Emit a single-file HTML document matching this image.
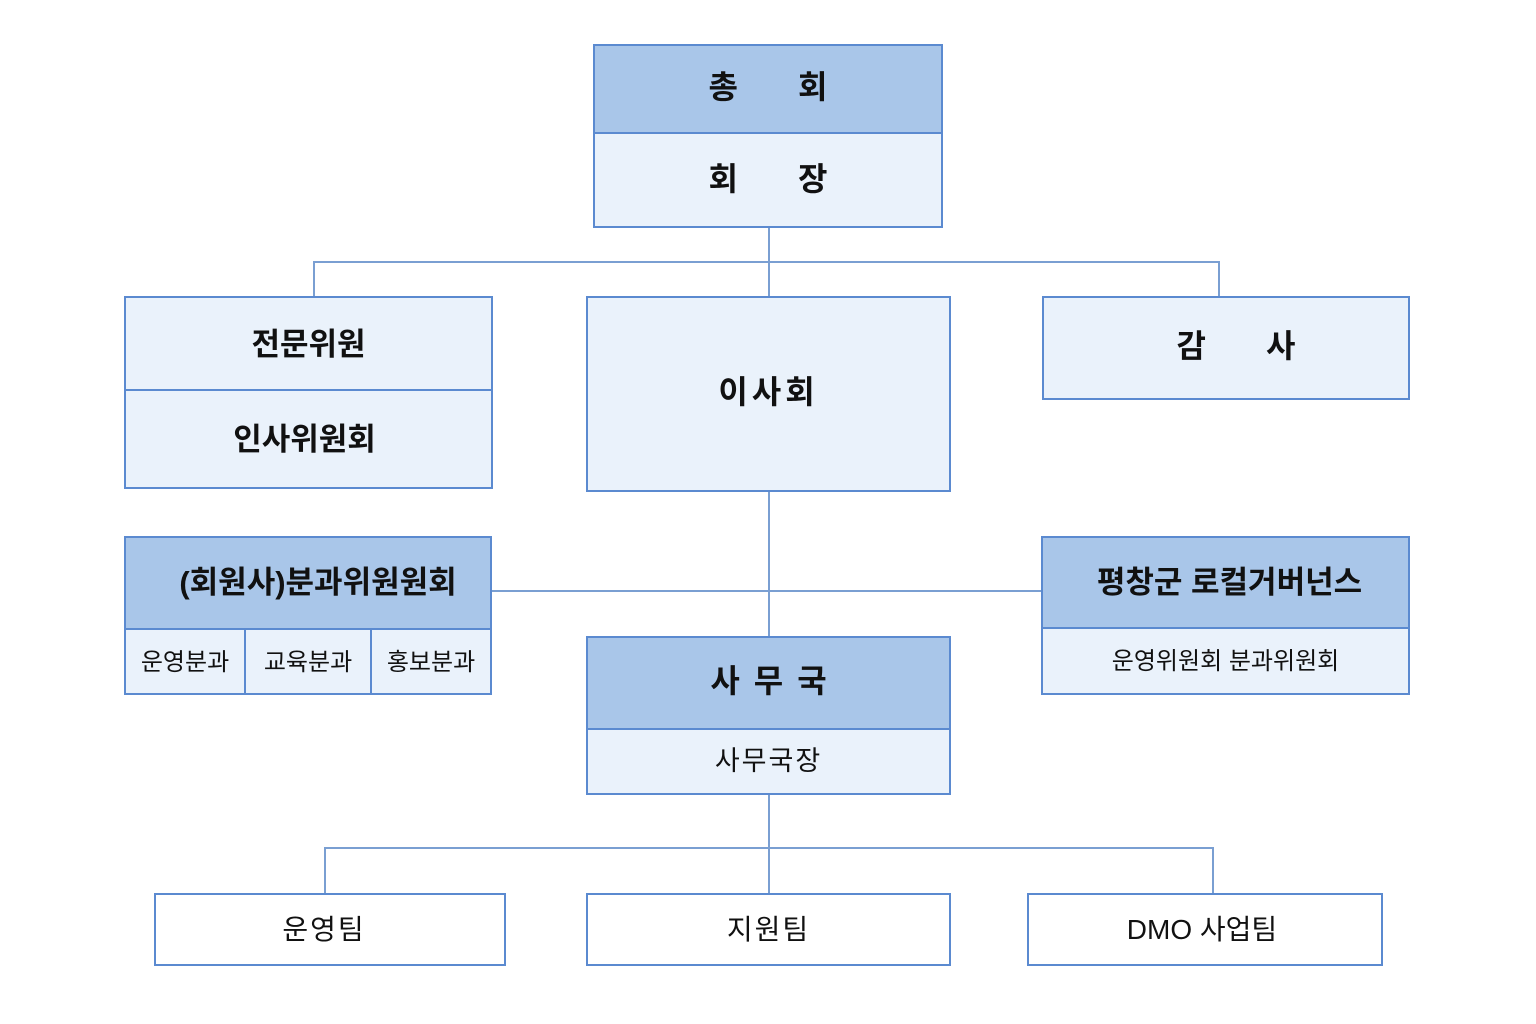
<!DOCTYPE html>
<html><head><meta charset="utf-8"><style>
html,body{margin:0;padding:0;background:#fff;}
body{width:1536px;height:1024px;position:relative;overflow:hidden;font-family:"Liberation Sans","Noto Sans CJK KR","NanumGothic",sans-serif;color:#111;}
.b{position:absolute;box-sizing:border-box;border:2px solid #5b8ad0;}
.d{background:#a9c6e9;}
.l{background:#eaf2fb;}
.w{background:#fff;}
.t{position:absolute;display:flex;align-items:center;justify-content:center;white-space:pre;}
.ln{position:absolute;background:#7a9fd2;}
.sp{display:inline-block;}
</style></head><body>
<div class="ln" style="left:768px;top:228px;width:1.5px;height:68px"></div>
<div class="ln" style="left:313px;top:261px;width:906px;height:1.5px"></div>
<div class="ln" style="left:313px;top:261px;width:1.5px;height:35px"></div>
<div class="ln" style="left:1218px;top:261px;width:1.5px;height:35px"></div>
<div class="ln" style="left:768px;top:491px;width:1.5px;height:145px"></div>
<div class="ln" style="left:492px;top:590px;width:549px;height:1.5px"></div>
<div class="ln" style="left:768px;top:794px;width:1.5px;height:99px"></div>
<div class="ln" style="left:324px;top:847px;width:889px;height:1.5px"></div>
<div class="ln" style="left:324px;top:847px;width:1.5px;height:46px"></div>
<div class="ln" style="left:1212px;top:847px;width:1.5px;height:46px"></div>

<div class="b d" style="left:593px;top:44px;width:350px;height:90px"></div>
<div class="b l" style="left:593px;top:132px;width:350px;height:96px"></div>
<div class="t" style="left:593px;top:41px;width:350px;height:88px;font-size:32px;font-weight:bold">총<span class="sp" style="width:60px"></span>회</div>
<div class="t" style="left:593px;top:129px;width:350px;height:96px;font-size:32px;font-weight:bold">회<span class="sp" style="width:60px"></span>장</div>

<div class="b l" style="left:124px;top:296px;width:369px;height:96px"></div>
<div class="b l" style="left:124px;top:389px;width:369px;height:100px"></div>
<div class="t" style="left:124px;top:294px;width:369px;height:94px;font-size:31px;font-weight:bold">전문위원</div>
<div class="t" style="left:120px;top:387px;width:369px;height:98px;font-size:31px;font-weight:bold">인사위원회</div>

<div class="b l" style="left:586px;top:296px;width:365px;height:196px"></div>
<div class="t" style="left:586px;top:294px;width:365px;height:192px;font-size:32px;font-weight:bold;letter-spacing:4px">이사회</div>

<div class="b l" style="left:1042px;top:296px;width:368px;height:104px"></div>
<div class="t" style="left:1052px;top:294px;width:368px;height:100px;font-size:32px;font-weight:bold">감<span class="sp" style="width:60px"></span>사</div>

<div class="b d" style="left:124px;top:536px;width:368px;height:95px"></div>
<div class="b l" style="left:124px;top:628px;width:122px;height:67px"></div>
<div class="b l" style="left:244px;top:628px;width:128px;height:67px"></div>
<div class="b l" style="left:370px;top:628px;width:122px;height:67px"></div>
<div class="t" style="left:134px;top:533px;width:368px;height:92px;font-size:31px;font-weight:bold">(회원사)분과위원원회</div>
<div class="t" style="left:124px;top:626px;width:122px;height:66px;font-size:24px">운영분과</div>
<div class="t" style="left:244px;top:626px;width:128px;height:66px;font-size:24px">교육분과</div>
<div class="t" style="left:370px;top:626px;width:122px;height:66px;font-size:24px">홍보분과</div>

<div class="b d" style="left:1041px;top:536px;width:369px;height:94px"></div>
<div class="b l" style="left:1041px;top:627px;width:369px;height:68px"></div>
<div class="t" style="left:1045px;top:533px;width:369px;height:92px;font-size:31px;font-weight:bold">평창군 로컬거버넌스</div>
<div class="t" style="left:1041px;top:625px;width:369px;height:66px;font-size:24px">운영위원회 분과위원회</div>

<div class="b d" style="left:586px;top:636px;width:365px;height:95px"></div>
<div class="b l" style="left:586px;top:728px;width:365px;height:67px"></div>
<div class="t" style="left:586px;top:633px;width:365px;height:92px;font-size:32px;font-weight:bold">사<span class="sp" style="width:14px"></span>무<span class="sp" style="width:14px"></span>국</div>
<div class="t" style="left:586px;top:726px;width:365px;height:64px;font-size:27px;letter-spacing:2px">사무국장</div>

<div class="b w" style="left:154px;top:893px;width:352px;height:73px"></div>
<div class="b w" style="left:586px;top:893px;width:365px;height:73px"></div>
<div class="b w" style="left:1027px;top:893px;width:356px;height:73px"></div>
<div class="t" style="left:154px;top:891px;width:340px;height:73px;font-size:28px;letter-spacing:2px">운영팀</div>
<div class="t" style="left:586px;top:891px;width:365px;height:73px;font-size:28px;letter-spacing:2px">지원팀</div>
<div class="t" style="left:1027px;top:891px;width:350px;height:73px;font-size:28px">DMO 사업팀</div>
</body></html>
